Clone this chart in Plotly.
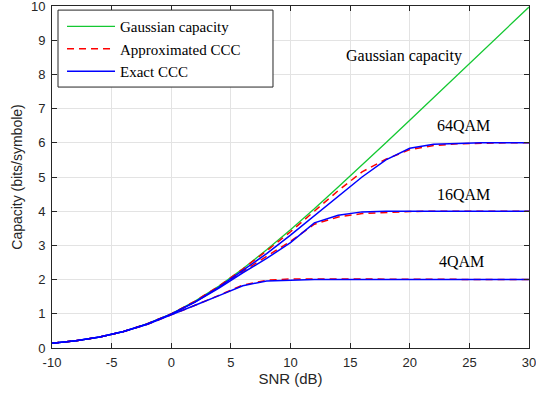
import plotly.graph_objects as go

snr = [-10, -8, -6, -4, -2, 0, 2, 4, 6, 8, 10, 12, 14, 16, 18, 20, 22, 24, 26, 28, 30]

gauss = [0.14, 0.21, 0.32, 0.48, 0.71, 1.0, 1.37, 1.81, 2.32, 2.87, 3.46, 4.07, 4.71, 5.35, 6.0, 6.66, 7.32, 7.98, 8.64, 9.30, 9.97]

exact_4qam = [0.14, 0.21, 0.32, 0.48, 0.69, 0.96, 1.25, 1.53, 1.82, 1.96, 1.99, 2.0, 2.0, 2.0, 2.0, 2.0, 2.0, 2.0, 2.0, 2.0, 2.0]
approx_4qam = [0.14, 0.21, 0.32, 0.48, 0.69, 0.96, 1.25, 1.54, 1.84, 1.98, 2.02, 2.02, 2.02, 2.01, 2.0, 2.0, 2.0, 2.0, 2.0, 2.0, 2.0]

exact_16qam = [0.14, 0.21, 0.32, 0.48, 0.70, 0.99, 1.34, 1.75, 2.2, 2.62, 3.08, 3.66, 3.88, 3.98, 4.0, 4.0, 4.0, 4.0, 4.0, 4.0, 4.0]
approx_16qam = [0.14, 0.21, 0.32, 0.48, 0.70, 0.99, 1.35, 1.77, 2.24, 2.68, 3.12, 3.62, 3.83, 3.93, 3.97, 3.99, 4.0, 4.0, 4.0, 4.0, 4.0]

exact_64qam = [0.14, 0.21, 0.32, 0.48, 0.70, 0.99, 1.35, 1.78, 2.27, 2.76, 3.3, 3.87, 4.44, 5.0, 5.5, 5.84, 5.96, 5.99, 6.0, 6.0, 6.0]
approx_64qam = [0.14, 0.21, 0.32, 0.48, 0.71, 1.0, 1.37, 1.81, 2.31, 2.84, 3.4, 4.0, 4.6, 5.15, 5.52, 5.8, 5.92, 5.97, 5.99, 6.0, 6.0]

x_ticks = [-10, -5, 0, 5, 10, 15, 20, 25, 30]
x_ticktext = ["-10", "-5", "0", "5", "10", "15", "20", "25", "30"]
y_ticks = [0, 1, 2, 3, 4, 5, 6, 7, 8, 9, 10]

labels = ["Gaussian capacity", "64QAM", "16QAM", "4QAM"]
label_x = [19.5, 24.5, 24.5, 24.3]
label_y = [8.54, 6.52, 4.5, 2.54]

fig = go.Figure()
fig.add_trace(go.Scatter(x=snr, y=gauss, mode="lines", name="Gaussian capacity",
                         line=dict(color="rgb(20,200,50)", width=1.3)))
for i, ys in enumerate([approx_4qam, approx_16qam, approx_64qam]):
    fig.add_trace(go.Scatter(x=snr, y=ys, mode="lines", name="Approximated CCC",
                             legendgroup="approx", showlegend=(i == 0),
                             line=dict(color="red", width=1.5, dash="7px,5px")))
for i, ys in enumerate([exact_4qam, exact_16qam, exact_64qam]):
    fig.add_trace(go.Scatter(x=snr, y=ys, mode="lines", name="Exact CCC",
                             legendgroup="exact", showlegend=(i == 0),
                             line=dict(color="blue", width=1.5)))

for t, xx, yy in zip(labels, label_x, label_y):
    fig.add_annotation(x=xx, y=yy, text=t, showarrow=False,
                       font=dict(family="Liberation Serif", size=16, color="black"))

# legend frame (white box with dark border)
fig.add_shape(type="rect", xref="paper", yref="paper",
              x0=0.0126, x1=0.4633, y0=0.763, y1=0.988,
              fillcolor="white", line=dict(color="#262626", width=1), layer="above")

axis_common = dict(showline=True, linecolor="#262626", linewidth=1, mirror="ticks",
                   ticks="inside", ticklen=5, tickcolor="#262626",
                   showgrid=True, gridcolor="#e3e3e3", gridwidth=1, zeroline=False,
                   ticklabeloverflow="allow",
                   tickfont=dict(family="Liberation Sans", size=13, color="#262626"))

fig.update_xaxes(range=[-10, 30], tickmode="array", tickvals=x_ticks, ticktext=x_ticktext,
                 ticklabelstandoff=2,
                 title=dict(text="SNR (dB)", font=dict(family="Liberation Sans", size=15, color="#262626"), standoff=4),
                 **axis_common)
fig.update_yaxes(range=[0, 10], tickmode="array", tickvals=y_ticks,
                 ticklabelstandoff=3,
                 title=dict(text="Capacity (bits/symbole)", font=dict(family="Liberation Sans", size=14, color="#262626"), standoff=5),
                 **axis_common)

fig.update_layout(
    width=536, height=402,
    margin=dict(l=52, r=7, t=6, b=54, autoexpand=False),
    plot_bgcolor="white", paper_bgcolor="white",
    legend=dict(x=0.021, y=0.988, xanchor="left", yanchor="top",
                bgcolor="rgba(0,0,0,0)", borderwidth=0,
                font=dict(family="Liberation Serif", size=15, color="black"),
                tracegroupgap=0, itemwidth=48),
    showlegend=True,
)

fig.write_html("out.html", config={"displayModeBar": False},
               post_script="document.body.style.margin='0';document.body.style.padding='0';document.body.style.overflow='hidden';")
